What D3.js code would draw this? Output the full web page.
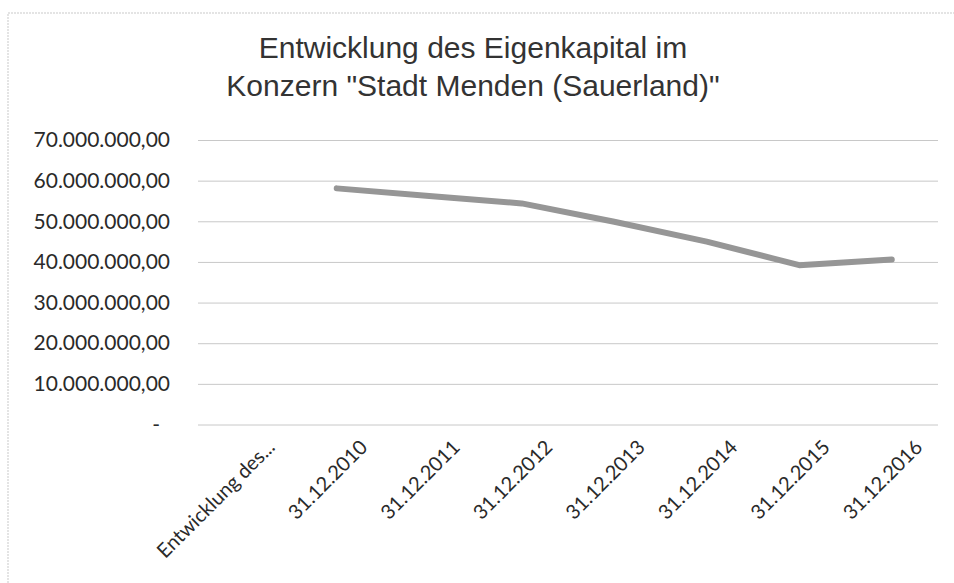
<!DOCTYPE html>
<html>
<head>
<meta charset="utf-8">
<script src="https://cdn.jsdelivr.net/npm/d3@7"></script>
<style>
  body { margin: 0; background: #fff; }
  svg { display: block; }
  .title { font-family: "Liberation Sans", Arial, sans-serif; font-size: 30px; fill: #333; }
  .yaxis text { font-family: Lato, "Open Sans", sans-serif; font-size: 21px; fill: #2a2a2a; }
  .xaxis text { font-family: Lato, "Open Sans", sans-serif; font-size: 20px; fill: #2a2a2a; }
  .grid line { stroke: #c8c8c8; stroke-width: 1; }
</style>
</head>
<body>
<svg width="954" height="583"></svg>
<script>
const titleLines = ["Entwicklung des Eigenkapital im", "Konzern \"Stadt Menden (Sauerland)\""];
const categories = ["Entwicklung des...", "31.12.2010", "31.12.2011", "31.12.2012", "31.12.2013", "31.12.2014", "31.12.2015", "31.12.2016"];
const equity = [null, 58100000, 56200000, 54400000, 49900000, 45000000, 39200000, 40600000];
const yTicks = [0, 10000000, 20000000, 30000000, 40000000, 50000000, 60000000, 70000000];

const svg = d3.select("svg");
const plotLeft = 198, plotRight = 938, plotTop = 140, plotBottom = 424.5;

// chart area frame (scan shows only top and left edges)
svg.append("path")
  .attr("d", "M8,583 L8,13 L954,13")
  .attr("fill", "none")
  .attr("stroke", "#c9c9c9")
  .attr("stroke-dasharray", "2,1");

svg.selectAll("text.title")
  .data(titleLines)
  .enter()
  .append("text")
  .attr("class", "title")
  .attr("x", 473)
  .attr("y", (d, i) => 58 + i * 38)
  .attr("text-anchor", "middle")
  .text((d) => d);

const x = d3.scaleBand().domain(categories).range([plotLeft, plotRight]);
const y = d3.scaleLinear().domain([0, 70000000]).range([plotBottom, plotTop]);

const de = d3.formatLocale({ decimal: ",", thousands: ".", grouping: [3], currency: ["", " €"] });
const numFormat = de.format(",.2f");

const yAxis = svg.append("g")
  .attr("class", "yaxis grid")
  .attr("transform", `translate(${plotLeft},0)`)
  .call(d3.axisLeft(y).tickValues(yTicks).tickSize(-(plotRight - plotLeft)).tickPadding(28)
    .tickFormat((d) => (d === 0 ? "-" : numFormat(d))));
yAxis.select(".domain").remove();
yAxis.selectAll(".tick text").filter((d) => d === 0).attr("dx", -10);

const xAxis = svg.append("g")
  .attr("class", "xaxis")
  .attr("transform", `translate(0,${plotBottom})`)
  .call(d3.axisBottom(x).tickSize(0));
xAxis.select(".domain").remove();
xAxis.selectAll(".tick text")
  .attr("text-anchor", "end")
  .attr("transform", "translate(27,19) rotate(-45)")
  .attr("dy", "0.35em")
  .attr("y", 0);

const line = d3.line()
  .defined((d) => d != null)
  .x((d, i) => x(categories[i]) + x.bandwidth() / 2)
  .y((d) => y(d));

svg.append("path")
  .datum(equity)
  .attr("fill", "none")
  .attr("stroke", "#969696")
  .attr("stroke-width", 6)
  .attr("stroke-linejoin", "round")
  .attr("stroke-linecap", "round")
  .attr("d", line);
</script>
</body>
</html>
